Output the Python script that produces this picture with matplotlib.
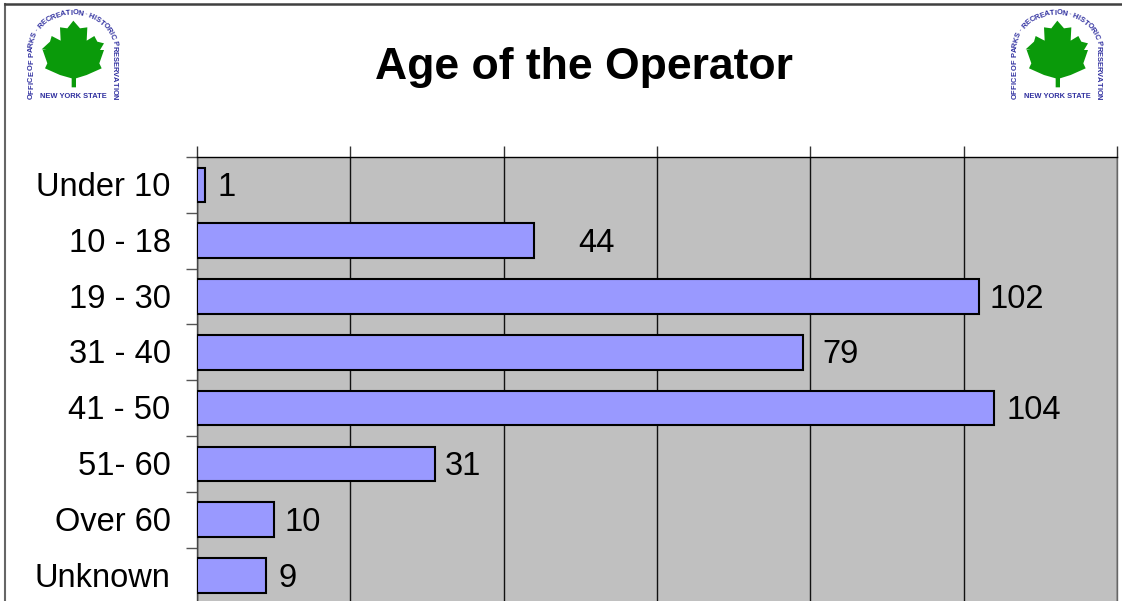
import numpy as np
import matplotlib
matplotlib.use("Agg")
import matplotlib.pyplot as plt
from matplotlib.patches import Polygon

plt.rcParams['font.family'] = ['Liberation Sans', 'DejaVu Sans']

title = "Age of the Operator"
categories = ["Under 10", "10 - 18", "19 - 30", "31 - 40", "41 - 50", "51- 60", "Over 60", "Unknown"]
values = [1, 44, 102, 79, 104, 31, 10, 9]
label_offsets_px = [13, 44, 11, 20, 12, 10, 11, 12]
xticks = [0, 20, 40, 60, 80, 100, 120]

W, H = 1122, 601
fig = plt.figure(figsize=(W / 100, H / 100), dpi=100, facecolor="white")

# plot area in pixels; it runs past the bottom edge of the picture
L, R, T = 197, 1117, 157
B = T + 8 * 55.8
ax = fig.add_axes([L / W, 1 - B / H, (R - L) / W, (B - T) / H], facecolor="#c0c0c0")
ax.set_xlim(0, 120)
ax.set_ylim(8, 0)
y = np.arange(len(values)) + 0.5
ax.barh(y, values, height=0.62, color="#9999ff", edgecolor="black", linewidth=1.5, zorder=3)
for yi, v, off in zip(y, values, label_offsets_px):
    ax.annotate(str(v), (v, yi), xytext=(off * 0.72, 0.7), textcoords="offset points",
                va="center_baseline", ha="left", fontsize=23.5, color="black", zorder=4)

ax.xaxis.tick_top()
ax.set_xticks(xticks)
ax.set_xticklabels([])
ax.set_yticks(np.arange(9))
ax.set_yticklabels([])
ax.tick_params(axis="x", length=8, width=1, color="#333333")
ax.tick_params(axis="y", length=8, width=1, color="#555555")
ax.grid(axis="x", color="#111111", linewidth=1, zorder=1)
ax.set_axisbelow(True)
for s in ("bottom",):
    ax.spines[s].set_visible(False)
ax.spines["top"].set_color("black")
ax.spines["left"].set_color("#444444")
ax.spines["right"].set_color("#666666")
for s in ("top", "left", "right"):
    ax.spines[s].set_linewidth(1)
for yi, c in zip(y, categories):
    ax.annotate(c, (0, yi), xytext=(-19, 0.7), textcoords="offset points", ha="right",
                va="center_baseline", fontsize=23.5, color="black", annotation_clip=False)

# overlay in pixel coordinates: frame, title, logos
ov = fig.add_axes([0, 0, 1, 1], facecolor="none", zorder=5)
ov.set_xlim(0, W)
ov.set_ylim(H, 0)
ov.axis("off")
ov.plot([5, 5], [H, 4], color="#666666", lw=1.5)
ov.plot([5, W], [4, 4], color="#404040", lw=1.8)
ov.text(584, 67, title, ha="center", va="center", fontsize=32, fontweight="bold", color="black")

leaf = [(220, 62), (240, 85), (262, 82), (260, 122), (283, 108), (292, 125), (312, 130), (300, 150),
        (312, 150), (298, 190), (305, 205), (260, 225), (228, 235), (228, 262), (215, 262), (215, 235),
        (180, 225), (135, 205), (142, 190), (128, 150), (140, 150), (125, 148), (150, 125), (155, 108),
        (182, 122), (180, 82), (202, 85)]
arch_text = "OFFICE OF PARKS \u00b7 RECREATION \u00b7 HISTORIC PRESERVATION"


def logo(dx):
    ov.add_patch(Polygon([(px / 3 + dx, py / 3) for px, py in leaf], closed=True,
                         facecolor="#0a9a0a", edgecolor="none"))
    cx, cy, rx, ry = 73 + dx, 49, 41.5, 36
    side = 50
    thetas = np.linspace(np.pi, 0, 200)
    arc = np.c_[cx + rx * np.cos(thetas), cy - ry * np.sin(thetas)]
    pts = np.vstack([[(cx - rx, cy + side)], arc, [(cx + rx, cy + side)]])
    seg = np.r_[0, np.cumsum(np.hypot(*np.diff(pts, axis=0).T))]
    widths = np.array([0.3 if ch in " \u00b7" else 0.35 if ch == "I" else 0.75 for ch in arch_text])
    edges = np.r_[0, np.cumsum(widths)] / widths.sum() * seg[-1]
    for i, ch in enumerate(arch_text):
        s = 0.5 * (edges[i] + edges[i + 1])
        px = np.interp(s, seg, pts[:, 0])
        py = np.interp(s, seg, pts[:, 1])
        qx = np.interp(s + 0.5, seg, pts[:, 0]) - np.interp(s - 0.5, seg, pts[:, 0])
        qy = np.interp(s + 0.5, seg, pts[:, 1]) - np.interp(s - 0.5, seg, pts[:, 1])
        ang = np.degrees(np.arctan2(-qy, qx))
        ov.text(px, py, ch, fontsize=5.4, color="#2f2f9f", ha="center", va="center",
                rotation=ang, rotation_mode="anchor", fontweight="bold")
    ov.text(cx, 96, "NEW YORK STATE", fontsize=5.4, color="#2f2f9f", ha="center", va="center",
            fontweight="bold")


logo(0)
logo(984)

fig.savefig("out.png", dpi=100, facecolor="white")
